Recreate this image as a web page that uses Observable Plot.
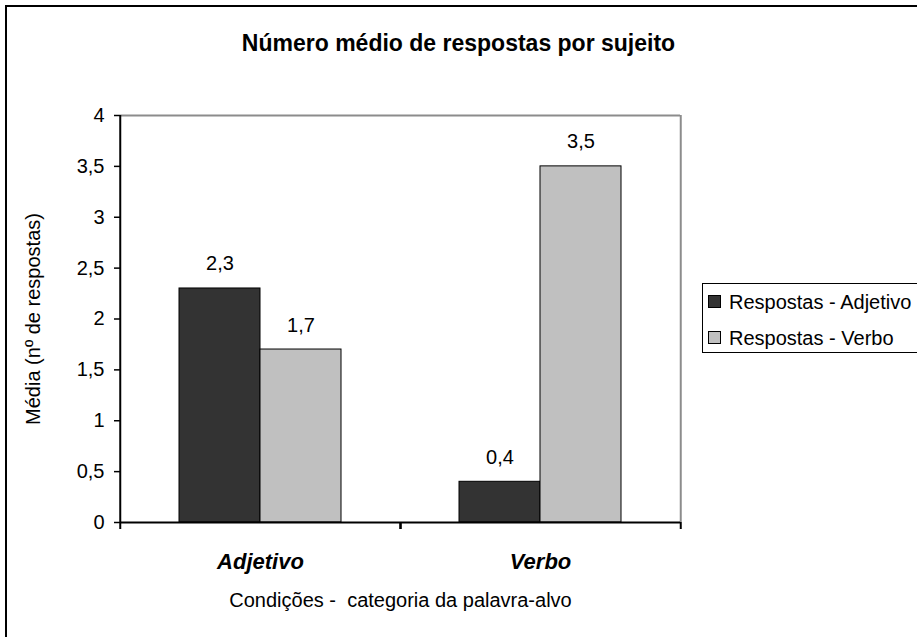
<!DOCTYPE html>
<html><head><meta charset="utf-8">
<script src="https://cdn.jsdelivr.net/npm/d3@7"></script>
<script src="https://cdn.jsdelivr.net/npm/@observablehq/plot@0.6"></script>
<style>
body{margin:0;background:#fff;overflow:hidden;font-family:"Liberation Sans",Arial,sans-serif;}
#wrap{position:relative;width:917px;height:637px;overflow:hidden;background:#fff;}
#border{position:absolute;left:5px;top:5px;width:1000px;height:1000px;border:2px solid #000;}
#title{position:absolute;left:0;width:917px;top:30px;text-align:center;font-weight:bold;font-size:23px;line-height:26px;}
#chart{position:absolute;left:0;top:0;}
#legend{position:absolute;left:702px;top:283px;width:300px;height:68px;border:1px solid #000;border-right:none;font-size:20px;}
.row{position:absolute;left:5px;height:24px;line-height:24px;white-space:nowrap;}
.sw{display:inline-block;width:11px;height:11px;border:1px solid #000;margin-right:8px;vertical-align:middle;position:relative;top:-2px;}
</style></head>
<body>
<div id="wrap">
  <div id="border"></div>
  <div id="chart"></div>
  <div id="title"></div>
  <div id="legend"></div>
</div>
<script>
const chartTitle = "Número médio de respostas por sujeito";
const categories = ["Adjetivo", "Verbo"];
const series = ["Respostas - Adjetivo", "Respostas - Verbo"];
const valuesAdjetivo = [2.3, 0.4];
const valuesVerbo = [1.7, 3.5];
const yTicks = [0, 0.5, 1, 1.5, 2, 2.5, 3, 3.5, 4];
const yLabel = "Média (nº de respostas)";
const xLabel = "Condições - \u00a0categoria da palavra-alvo";
const colors = ["#333333", "#c0c0c0"];

const seriesValues = [valuesAdjetivo, valuesVerbo];
const data = [];
categories.forEach((c, i) => series.forEach((s, j) => data.push({category: c, series: s, value: seriesValues[j][i]})));

const fmt = d => String(d).replace(".", ",");
const W = 917, H = 637, mL = 119, mR = 237, mT = 115, mB = 115;
const half = (W - mL - mR) / categories.length / 2;
const font = "Liberation Sans, Arial, sans-serif";
const yMin = yTicks[0], yMax = yTicks[yTicks.length - 1];

const chart = Plot.plot({
  width: W, height: H, marginLeft: mL, marginRight: mR, marginTop: mT, marginBottom: mB,
  style: {fontFamily: font, fontSize: "20px", color: "#000", background: "transparent", overflow: "visible"},
  fx: {domain: categories, padding: 0, label: null},
  x: {domain: series, paddingInner: 0, paddingOuter: 0.71, axis: null},
  y: {domain: [yMin, yMax], axis: null},
  color: {domain: series, range: colors},
  marks: [
    // plot-area border (top + right), grey
    Plot.ruleY([yMax], {stroke: "#8c8c8c", strokeWidth: 2}),
    Plot.ruleX([categories[categories.length - 1]], {fx: d => d, x: null, y1: yMin, y2: yMax, dx: half, stroke: "#8c8c8c", strokeWidth: 2}),
    Plot.barY(data, {fx: "category", x: "series", y: "value", fill: "series", stroke: "#000", strokeWidth: 1}),
    // axis lines
    Plot.ruleY([yMin], {stroke: "#000", strokeWidth: 2}),
    Plot.ruleX([categories[0]], {fx: d => d, x: null, y1: yMin, y2: yMax, dx: -half, stroke: "#000", strokeWidth: 2}),
    Plot.axisY({anchor: "left", ticks: yTicks, tickFormat: fmt, tickSize: 6, tickPadding: 10, stroke: "#000", strokeWidth: 1.5, fontSize: 20,
      label: yLabel, labelAnchor: "center", labelArrow: "none", labelOffset: 95}),
    Plot.text(data, {fx: "category", x: "series", y: "value", text: d => fmt(d.value), dy: -18, lineAnchor: "bottom", fontSize: 20, fill: "#000"}),
    Plot.axisFx({anchor: "bottom", tickSize: 0, tickPadding: 31, fontSize: 22, fontWeight: "bold", fontStyle: "italic", label: null}),
    Plot.axisFx({anchor: "bottom", ticks: [], tickSize: 0, fontSize: 20, label: xLabel, labelAnchor: "center", labelArrow: "none", labelOffset: 84}),
    Plot.axisFx({anchor: "bottom", tickSize: 7, strokeWidth: 2, tickFormat: () => "", dx: -half, label: null}),
    Plot.axisFx({anchor: "bottom", tickSize: 7, strokeWidth: 2, tickFormat: () => "", dx: half, label: null})
  ]
});
document.getElementById("chart").appendChild(chart);
document.getElementById("title").textContent = chartTitle;

const legend = document.getElementById("legend");
series.forEach((s, j) => {
  const row = document.createElement("div");
  row.className = "row";
  row.style.top = (6 + j * 36) + "px";
  const sw = document.createElement("span");
  sw.className = "sw";
  sw.style.background = colors[j];
  row.appendChild(sw);
  row.appendChild(document.createTextNode(s));
  legend.appendChild(row);
});
</script>
</body></html>
